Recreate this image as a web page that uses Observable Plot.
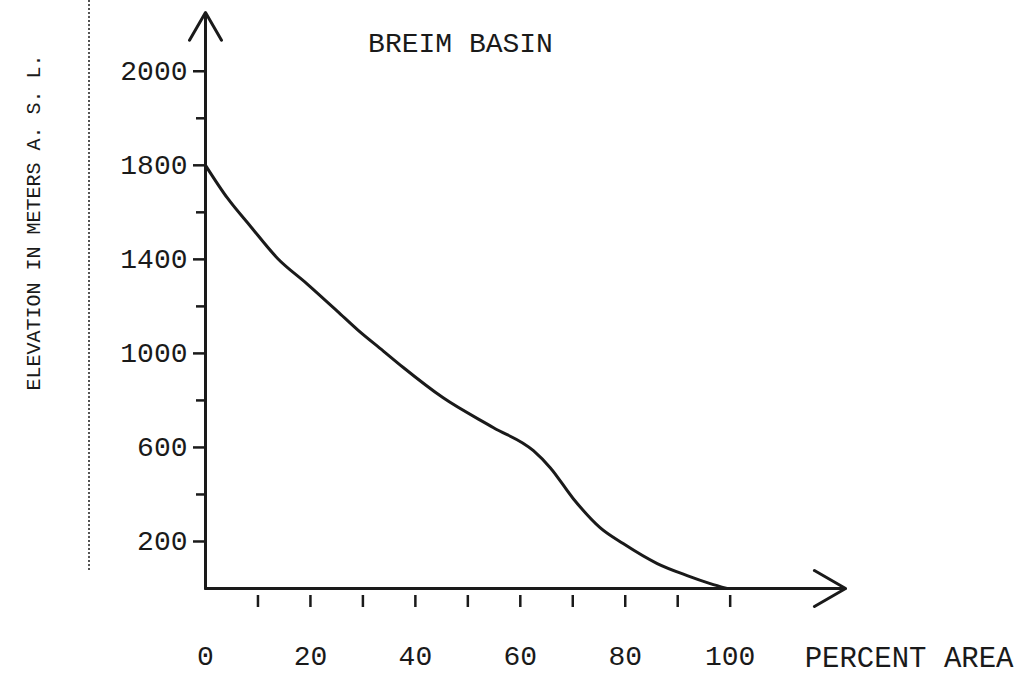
<!DOCTYPE html>
<html><head><meta charset="utf-8">
<script src="https://cdn.jsdelivr.net/npm/d3@7"></script>
<script src="https://cdn.jsdelivr.net/npm/@observablehq/plot@0.6"></script>
<style>
body{margin:0;background:#fff;}
#wrap{position:relative;width:1027px;height:683px;}
#wrap svg{position:absolute;left:0;top:0;}
#fold{position:absolute;left:88px;top:0;height:570px;border-left:2px dotted #555;z-index:2;}
</style></head><body><div id="wrap"></div>
<script>
// Hypsometric curve, Breim basin
const percentArea = [0, 4.2, 8.6, 13.7, 19.4, 25.1, 29.0, 33.9, 37.7, 45.3, 54.9, 62.5, 65.7, 70.1, 75.2, 79.6, 86.1, 91.8, 96.2, 99.4];
const elevation   = [1800, 1660, 1540, 1405, 1295, 1180, 1100, 1010, 940, 811, 684, 586, 514, 382, 259, 191, 106, 55, 21, 0];

const yMinorTicks   = [400, 800, 1200, 1600, 2000];
const yLabeledTicks = [200, 600, 1000, 1400, 1800, 2200];
const yTickLabels   = ["200", "600", "1000", "1400", "1800", "2000"];
const xTickValues   = [10, 20, 30, 40, 50, 60, 70, 80, 90, 100];
const xLabelValues  = [0, 20, 40, 60, 80, 100];
const xLabelTexts   = ["0", "20", "40", "60", "80", "100"];

const titleText = "BREIM BASIN";
const xTitle = "PERCENT AREA";
const yTitle = "ELEVATION IN METERS A. S. L.";
const xAxisEnd = 122;   // x-axis arrow extends beyond 100 %
const yAxisEnd = 2450;  // y-axis arrow extends above top tick

const data = percentArea.map((p, i) => ({area: p, elev: elevation[i]}));
const font = "'Liberation Mono','DejaVu Sans Mono',monospace";
const ink = "#1a1a1a";

const chart = Plot.plot({
  width: 1027, height: 683,
  marginLeft: 205, marginRight: 14, marginTop: 12, marginBottom: 95,
  x: {domain: [0, 154]},
  y: {domain: [0, yAxisEnd]},
  style: {fontFamily: font, fontSize: "28px", color: ink, background: "white"},
  marks: [
    Plot.axisY({ticks: yMinorTicks, tickSize: 9, tickFormat: () => "", label: null, strokeWidth: 2.5}),
    Plot.axisY({ticks: yLabeledTicks, tickSize: 12, tickPadding: 6, label: null, strokeWidth: 2.5,
      tickFormat: d => yTickLabels[yLabeledTicks.indexOf(d)]}),
    Plot.axisX({ticks: xTickValues, tickSize: 12, dy: 7, tickFormat: () => "", label: null, strokeWidth: 2.5}),
    Plot.axisX({ticks: xLabelValues, tickSize: 0, tickPadding: 57, label: null,
      tickFormat: d => xLabelTexts[xLabelValues.indexOf(d)]}),
    Plot.arrow([{x1: 0, y1: 0, x2: xAxisEnd, y2: 0}], {x1: "x1", y1: "y1", x2: "x2", y2: "y2",
      stroke: ink, strokeWidth: 3, headLength: 18, bend: 0}),
    Plot.arrow([{x1: 0, y1: 0, x2: 0, y2: yAxisEnd}], {x1: "x1", y1: "y1", x2: "x2", y2: "y2",
      stroke: ink, strokeWidth: 3, headLength: 16, bend: 0}),
    Plot.line(data, {x: "area", y: "elev", stroke: ink, strokeWidth: 3, curve: "monotone-x"}),
    Plot.text([titleText], {text: d => d, frameAnchor: "top-left", dx: 255, dy: 31,
      textAnchor: "middle", lineAnchor: "middle", fontSize: 28, fill: ink}),
    Plot.text([xTitle], {text: d => d, frameAnchor: "bottom-right", dy: 69,
      textAnchor: "end", lineAnchor: "middle", fontSize: 29, fill: ink}),
    Plot.text([yTitle], {text: d => d, frameAnchor: "left", dx: -172, dy: -78, rotate: -90,
      textAnchor: "middle", lineAnchor: "middle", fontSize: 20, fill: ink})
  ]
});
const wrap = document.getElementById("wrap");
wrap.appendChild(chart);
const fold = document.createElement("div");
fold.id = "fold";
wrap.appendChild(fold);
</script>
</body></html>
